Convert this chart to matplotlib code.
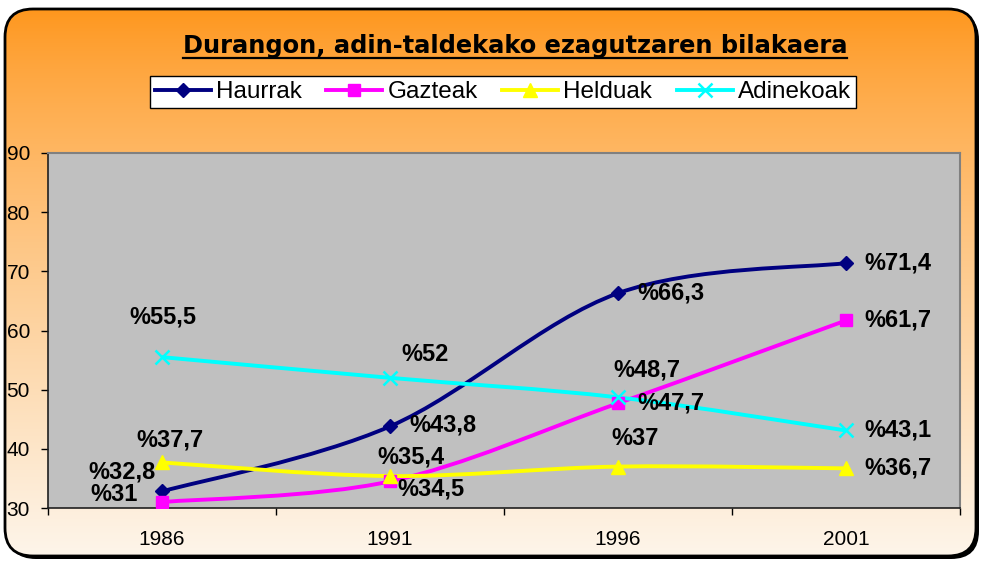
# Durangon, adin-taldekako ezagutzaren bilakaera
# Excel estiloko lerro-grafikoa (lerro leunduak) matplotlib-ekin

import numpy as np
import matplotlib.pyplot as plt
from matplotlib.patches import FancyBboxPatch, PathPatch
from matplotlib.path import Path
from matplotlib.lines import Line2D

plt.rcParams['font.family'] = ['Liberation Sans', 'DejaVu Sans']

# ===== datuak =====
years = ["1986", "1991", "1996", "2001"]
haurrak = [32.8, 43.8, 66.3, 71.4]
gazteak = [31.0, 34.5, 47.7, 61.7]
helduak = [37.7, 35.4, 37.0, 36.7]
adinekoak = [55.5, 52.0, 48.7, 43.1]
series_names = ["Haurrak", "Gazteak", "Helduak", "Adinekoak"]
title = "Durangon, adin-taldekako ezagutzaren bilakaera"

# ===== estiloa =====
colors = ["#000080", "#FF00FF", "#FFFF00", "#00FFFF"]
markers = ["D", "s", "^", "x"]
msizes = [7.5, 8, 10, 10]
# etiketen desplazamendua puntutik (pixeletan)
label_offsets = [
    [(-40, 19), (53, 1), (53, 0), (52, 0)],
    [(-48, 8), (41, -8), (53, 0), (52, 0)],
    [(8, 22), (21, 19), (17, 28), (52, 0)],
    [(1, 40), (35, 23), (29, 27), (52, 0)],
]

W, H = 981, 561


def smooth_path(xs, ys):
    # Excel-en "lerro leuna": Catmull-Rom -> Bezier kubikoa
    pts = np.column_stack([xs, ys]).astype(float)
    n = len(pts)
    verts = [pts[0]]
    codes = [Path.MOVETO]
    for i in range(n - 1):
        p0 = pts[max(i - 1, 0)]
        p1 = pts[i]
        p2 = pts[i + 1]
        p3 = pts[min(i + 2, n - 1)]
        verts += [p1 + (p2 - p0) / 6, p2 - (p3 - p1) / 6, p2]
        codes += [Path.CURVE4] * 3
    return Path(verts, codes)


def main():
    fig = plt.figure(figsize=(W / 100, H / 100), dpi=100)
    fig.patch.set_facecolor("white")

    # atzeko gradientea, ertz biribilduekin
    bg = fig.add_axes([0, 0, 1, 1], zorder=-5)
    bg.set_xlim(0, W)
    bg.set_ylim(H, 0)
    bg.axis("off")
    shadow = FancyBboxPatch((8, 12), 971, 547, boxstyle="round,pad=0,rounding_size=28",
                            facecolor="black", edgecolor="black", lw=0)
    bg.add_patch(shadow)
    frame = FancyBboxPatch((5, 9), 971, 547, boxstyle="round,pad=0,rounding_size=28",
                           facecolor="none", edgecolor="black", lw=2.0, zorder=3)
    bg.add_patch(frame)
    top = np.array([255, 150, 28]) / 255
    bot = np.array([253, 245, 234]) / 255
    f = np.linspace(0, 1, 256) ** 0.8
    grad = top[None, :] * (1 - f[:, None]) + bot[None, :] * f[:, None]
    img = bg.imshow(grad[:, None, :], extent=(5, 976, 556, 9), aspect="auto", zorder=2)
    img.set_clip_path(frame)

    # grafikoa
    ax = fig.add_axes([48 / W, 53 / H, 912 / W, 355 / H])
    ax.set_facecolor("#C0C0C0")
    ax.set_xlim(-0.5, 3.5)
    ax.set_ylim(30, 90)
    x = np.arange(len(years))
    data = [haurrak, gazteak, helduak, adinekoak]

    for k, vals in enumerate(data):
        ax.add_patch(PathPatch(smooth_path(x, vals), facecolor="none",
                               edgecolor=colors[k], lw=2.8, zorder=3))
        ax.plot(x, vals, linestyle="none", marker=markers[k], markersize=msizes[k],
                color=colors[k], markeredgewidth=1.8 if markers[k] == "x" else 1,
                zorder=4)
        for i, v in enumerate(vals):
            txt = ("%" + f"{v:g}").replace(".", ",")
            ax.annotate(txt, (x[i], v), xytext=label_offsets[k][i],
                        textcoords="offset pixels", ha="center", va="center",
                        fontsize=17, fontweight="bold", color="black", zorder=5)

    ax.set_yticks(np.arange(30, 91, 10))
    ax.set_xticks(x)
    ax.set_xticklabels(years)
    ax.set_xticks(np.arange(-0.5, 3.6, 1), minor=True)
    ax.tick_params(axis="y", direction="out", length=5, width=1, pad=8, labelsize=15)
    ax.tick_params(axis="x", which="major", length=0, pad=16, labelsize=15)
    ax.tick_params(axis="x", which="minor", direction="out", length=5, width=1)
    for s in ["left", "bottom"]:
        ax.spines[s].set_color("#202020")
        ax.spines[s].set_linewidth(1.2)
    for s in ["top", "right"]:
        ax.spines[s].set_color("#808080")
        ax.spines[s].set_linewidth(1.5)

    # legenda
    handles = [Line2D([], [], color=colors[k], lw=2.8, marker=markers[k],
                      markersize=msizes[k], markeredgewidth=1.8 if markers[k] == "x" else 1)
               for k in range(4)]
    leg = fig.legend(handles, series_names, loc="center", ncol=4,
                     bbox_to_anchor=(503 / W, 1 - 92 / H), fontsize=17.5,
                     frameon=True, fancybox=False, edgecolor="black",
                     handlelength=2.3, handletextpad=0.22, columnspacing=1.0,
                     borderpad=0.2, borderaxespad=0)
    leg.get_frame().set_linewidth(1.0)
    leg.get_frame().set_facecolor("white")
    leg.get_frame().set_alpha(1)

    # izenburua azpimarratuta
    t = fig.text(515 / W, 1 - 53 / H, title, ha="center", va="baseline",
                 fontsize=17.4, fontweight="bold", family=["DejaVu Sans"])
    fig.canvas.draw()
    bb = t.get_window_extent(renderer=fig.canvas.get_renderer())
    uy = 1 - 57.5 / H
    fig.add_artist(Line2D([bb.x0 / W, bb.x1 / W], [uy, uy], transform=fig.transFigure,
                          color="black", lw=1.6))

    fig.savefig("out.png", dpi=100)


if __name__ == "__main__":
    main()
